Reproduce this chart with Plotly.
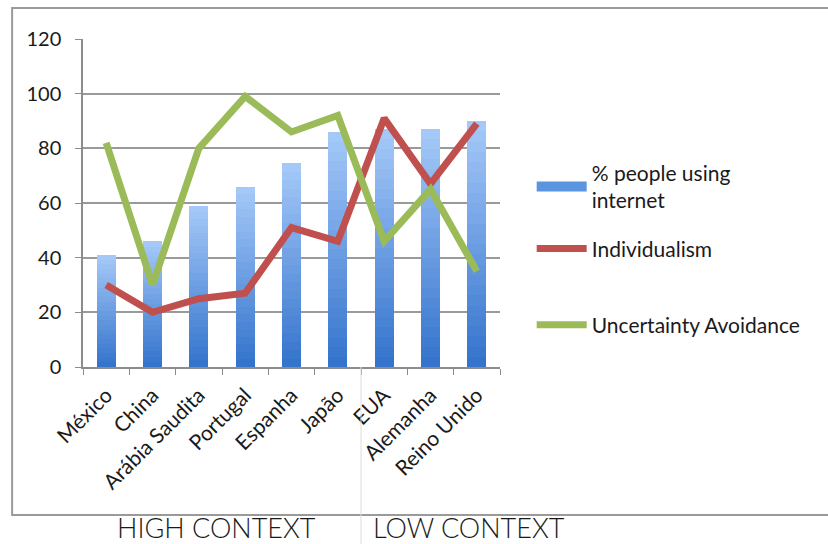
import plotly.graph_objects as go

countries = ["México", "China", "Arábia Saudita", "Portugal", "Espanha", "Japão", "EUA", "Alemanha", "Reino Unido"]
internet = [41, 46, 59, 66, 74.5, 86, 87, 87, 90]
individualism = [30, 20, 25, 27, 51, 46, 91, 67, 89]
uncertainty = [82, 30, 80, 99, 86, 92, 46, 65, 35]
y_ticks = [0, 20, 40, 60, 80, 100, 120]
context_labels = ["HIGH CONTEXT", "LOW CONTEXT"]

FONT = "Lato"
TXT = "#1a1a1a"

fig = go.Figure()

# gradient bars: stack N slices of each bar, dark at bottom to light at top
N = 24
c_bot = (0x35, 0x74, 0xcc)
c_top = (0xa4, 0xc8, 0xf8)
for k in range(N):
    t = k / (N - 1)
    col = "rgb(%d,%d,%d)" % tuple(round(c_bot[i] + (c_top[i] - c_bot[i]) * t) for i in range(3))
    fig.add_trace(go.Bar(
        x=countries, y=[v / N for v in internet], marker=dict(color=col, line=dict(width=0)),
        showlegend=False, hoverinfo="skip", name="% people using internet"))

# legend proxy for bars
fig.add_trace(go.Scatter(x=[countries[0]], y=[None], mode="lines",
                         line=dict(color="#5b95e0", width=10),
                         name="% people using<br>internet", legend="legend"))
fig.add_trace(go.Scatter(x=countries, y=individualism, mode="lines",
                         line=dict(color="#c0504d", width=7),
                         name="Individualism", legend="legend2"))
fig.add_trace(go.Scatter(x=countries, y=uncertainty, mode="lines",
                         line=dict(color="#9bbb59", width=7),
                         name="Uncertainty Avoidance", legend="legend3"))

leg_common = dict(font=dict(family=FONT, size=21, color=TXT), bgcolor="rgba(0,0,0,0)",
                  itemwidth=50, xanchor="left", yanchor="middle")
fig.update_layout(
    width=828, height=544,
    margin=dict(l=83, r=328, t=39, b=177),
    paper_bgcolor="white", plot_bgcolor="white",
    barmode="stack", bargap=0.59,
    font=dict(family=FONT, size=19, color=TXT),
    legend=dict(x=1.076, y=0.55, **leg_common),
    legend2=dict(x=1.076, y=0.36, **leg_common),
    legend3=dict(x=1.076, y=0.128, **leg_common),
    xaxis=dict(type="category", tickangle=-45, showgrid=False, showline=True,
               linecolor="#8c8c8c", linewidth=1.5, ticks="outside", tickson="boundaries",
               ticklen=6, tickcolor="#8c8c8c", ticklabelstandoff=6,
               tickfont=dict(family=FONT, size=21, color=TXT)),
    yaxis=dict(range=[0, 120], tickvals=y_ticks, showgrid=True, gridcolor="#9a9a9a", gridwidth=1.5,
               showline=True, linecolor="#8c8c8c", linewidth=1.5, ticks="outside", ticklen=6,
               ticklabelstandoff=10,
               tickcolor="#8c8c8c", zeroline=False, tickfont=dict(family=FONT, size=20, color=TXT)),
    shapes=[
        dict(type="rect", xref="paper", yref="paper", x0=-0.170, x1=1.86, y0=-0.451, y1=1.0945,
             line=dict(color="#9a9a9a", width=2), layer="below"),
        dict(type="line", xref="x", yref="paper", x0=5.5, x1=5.5, y0=0, y1=-0.56,
             line=dict(color="#dcdcdc", width=1)),
    ],
    annotations=[
        dict(text=context_labels[0], xref="paper", yref="paper", x=(216 - 83) / 417, y=(367 - 527) / 328,
             showarrow=False, xanchor="center", yanchor="middle",
             font=dict(family=FONT, size=27, color=TXT, weight=300)),
        dict(text=context_labels[1], xref="paper", yref="paper", x=(469 - 83) / 417, y=(367 - 527) / 328,
             showarrow=False, xanchor="center", yanchor="middle",
             font=dict(family=FONT, size=27, color=TXT, weight=300)),
    ],
)

fig.write_html("out.html")
